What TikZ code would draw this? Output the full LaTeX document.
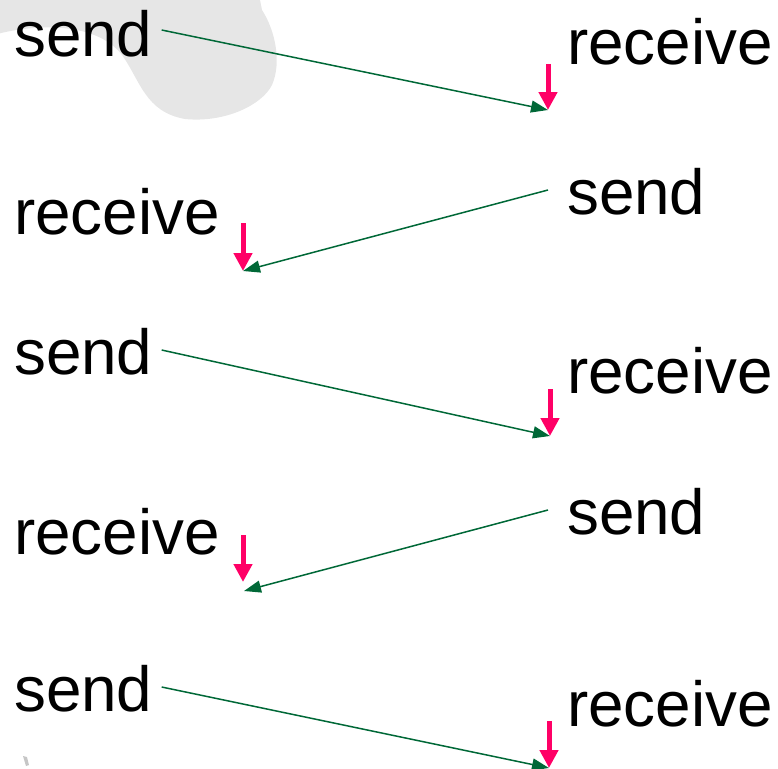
\documentclass[tikz,border=0pt]{standalone}
\usepackage{fontspec}
\setmainfont{Liberation Sans}
\usetikzlibrary{arrows.meta}
\definecolor{msggreen}{HTML}{006837}
\definecolor{markred}{HTML}{FF0066}
\definecolor{blobgray}{HTML}{E6E6E6}
\tikzset{
  evtext/.style={anchor=base west, inner sep=0pt, font=\fontsize{64}{64}\selectfont},
  msgarrow/.style={draw=msggreen, line width=1.5bp, -{Triangle[length=17bp,width=12bp]}, fill=msggreen},
  recvmark/.style={draw=markred, line width=5bp, -{Triangle[length=18bp,width=18bp]}, fill=markred}
}
\begin{document}
\begin{tikzpicture}[x=1bp, y=-1bp]
  \useasboundingbox (0,0) rectangle (778,769);
  \begin{scope}
    \clip (0,0) rectangle (778,769);
    % background blobs
    \fill[blobgray] (-10,36) .. controls (30,24) and (95,20) .. (122,55)
      .. controls (140,80) and (145,112) .. (185,119)
      .. controls (225,123) and (262,105) .. (272,85)
      .. controls (282,62) and (275,30) .. (262,10)
      -- (258,-10) -- (-10,-10) -- cycle;
    \fill[gray!45] (23,756) -- (27,757) -- (29,765) -- (26,766) -- cycle;
  \end{scope}

  % left column
  \node[evtext] (s1) at (14,57) {send};
  \node[evtext] (r2) at (14,234) {receive};
  \node[evtext] (s3) at (14,374) {send};
  \node[evtext] (r4) at (14,554) {receive};
  \node[evtext] (s5) at (14,711) {send};
  % right column
  \node[evtext] (r1) at (567,65) {receive};
  \node[evtext] (s2) at (567,214) {send};
  \node[evtext] (r3) at (567,393) {receive};
  \node[evtext] (s4) at (567,534) {send};
  \node[evtext] (r5) at (567,726) {receive};

  % message start points
  \coordinate (a1) at ([shift={(9,-27)}]s1.base east);
  \coordinate (a2) at ([shift={(-19,-24)}]s2.base west);
  \coordinate (a3) at ([shift={(9,-24)}]s3.base east);
  \coordinate (a4) at ([shift={(-19,-24)}]s4.base west);
  \coordinate (a5) at ([shift={(9,-24)}]s5.base east);
  % message arrival points
  \coordinate (b1) at ([shift={(-19,45)}]r1.base west);
  \coordinate (b2) at ([shift={(229,37)}]r2.base west);
  \coordinate (b3) at ([shift={(-17,43)}]r3.base west);
  \coordinate (b4) at ([shift={(230,37)}]r4.base west);
  \coordinate (b5) at ([shift={(-18,42)}]r5.base west);
  % reception mark tips
  \coordinate (m4) at ([shift={(229,28)}]r4.base west);

  % messages
  \draw[msgarrow] (a1) -- (b1);
  \draw[msgarrow] (a2) -- (b2);
  \draw[msgarrow] (a3) -- (b3);
  \draw[msgarrow] (a4) -- (b4);
  \draw[msgarrow] (a5) -- (b5);

  % reception marks
  \draw[recvmark] ([shift={(0,-46)}]b1) -- (b1);
  \draw[recvmark] ([shift={(0,-48)}]b2) -- (b2);
  \draw[recvmark] ([shift={(0,-47)}]b3) -- (b3);
  \draw[recvmark] ([shift={(0,-47)}]m4) -- (m4);
  \draw[recvmark] ([shift={(0,-47)}]b5) -- (b5);
\end{tikzpicture}
\end{document}
